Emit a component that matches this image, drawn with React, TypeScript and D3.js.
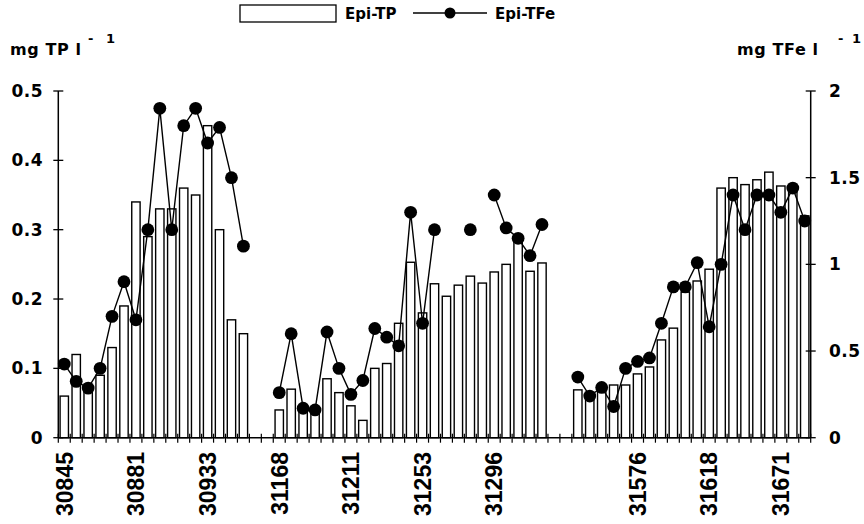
import React from "react";
import * as d3 from "d3";

// Epilimnion total phosphorus (bars, left axis) and total iron (dots, right axis)
const epiTP: (number | null)[] = [
  0.06, 0.12, 0.07, 0.09, 0.13, 0.19, 0.34, 0.29, 0.33, 0.33, 0.36, 0.35, 0.45, 0.3, 0.17, 0.15,
  null, null,
  0.04, 0.07, 0.04, 0.04, 0.085, 0.065, 0.046, 0.025, 0.1, 0.107, 0.165, 0.253, 0.18, 0.222,
  0.204, 0.22, 0.233, 0.223, 0.239, 0.25, 0.284, 0.24, 0.252,
  null, null,
  0.069, 0.065, 0.075, 0.076, 0.076, 0.092, 0.102, 0.141, 0.158, 0.21, 0.226, 0.243, 0.36,
  0.375, 0.365, 0.372, 0.383, 0.363, 0.36, 0.32,
];

const epiTFe: (number | null)[] = [
  0.425, 0.325, 0.286, 0.4, 0.7, 0.9, 0.68, 1.2, 1.9, 1.2, 1.8, 1.9, 1.7, 1.79, 1.5, 1.105,
  null, null,
  0.26, 0.6, 0.17, 0.16, 0.61, 0.4, 0.25, 0.33, 0.63, 0.58, 0.53, 1.3, 0.66, 1.2,
  null, null, 1.2, null, 1.4, 1.21, 1.15, 1.05, 1.23,
  null, null,
  0.35, 0.24, 0.29, 0.18, 0.4, 0.44, 0.46, 0.66, 0.87, 0.87, 1.01, 0.64, 1.0, 1.4, 1.2,
  1.4, 1.4, 1.3, 1.44, 1.25,
];

// labels shown on every 6th sample
const dateLabels = [
  "30845", "30881", "30933", "31168", "31211", "31253", "31296", "", "31576", "31618", "31671",
];
const labelEvery = 6;

const leftTicks = [0, 0.1, 0.2, 0.3, 0.4, 0.5];
const rightTicks = [0, 0.5, 1, 1.5, 2];

const W = 864;
const H = 524;
const plot = { left: 58.3, right: 810.7, top: 91, bottom: 437.7 };

const boldFont = "'DejaVu Sans', sans-serif";

export default function App() {
  const idx = d3.range(epiTP.length);
  const x = d3
    .scaleBand<number>()
    .domain(idx)
    .range([plot.left, plot.right])
    .paddingInner(0)
    .paddingOuter(0);
  const yL = d3.scaleLinear().domain([0, 0.5]).range([plot.bottom, plot.top]);
  const yR = d3.scaleLinear().domain([0, 2]).range([plot.bottom, plot.top]);
  const barW = x.bandwidth() * 0.7;
  const cx = (i: number) => (x(i) as number) + x.bandwidth() / 2;

  const line = d3
    .line<number | null>()
    .defined((d) => d != null)
    .x((_, i) => cx(i))
    .y((d) => yR(d as number));

  const boundaries = d3.range(epiTP.length + 1).map((k) => plot.left + k * x.step());

  return (
    <svg
      width={W}
      height={H}
      style={{ position: "absolute", left: 0, top: 0, background: "#fff" }}
    >
      <rect x={0} y={0} width={W} height={H} fill="#fff" />

      {/* legend */}
      <rect x={240} y={5} width={96} height={17} fill="#fff" stroke="#000" strokeWidth={1.3} />
      <text x={345} y={19} fontFamily={boldFont} fontWeight="bold" fontSize={15}>
        Epi-TP
      </text>
      <line x1={413} x2={487} y1={13} y2={13} stroke="#000" strokeWidth={1.3} />
      <circle cx={450} cy={13} r={5.5} fill="#000" />
      <text x={495} y={19} fontFamily={boldFont} fontWeight="bold" fontSize={15}>
        Epi-TFe
      </text>

      {/* axis titles */}
      <text x={10} y={55} fontFamily={boldFont} fontWeight="bold" fontSize={16} letterSpacing={0.6}>
        mg TP l
      </text>
      <text y={43} fontFamily={boldFont} fontWeight="bold" fontSize={13}>
        <tspan x={88}>-</tspan>
        <tspan x={106}>1</tspan>
      </text>
      <text x={737} y={55} fontFamily={boldFont} fontWeight="bold" fontSize={16} letterSpacing={0.6}>
        mg TFe l
      </text>
      <text y={43} fontFamily={boldFont} fontWeight="bold" fontSize={13}>
        <tspan x={838}>-</tspan>
        <tspan x={852}>1</tspan>
      </text>

      {/* bars */}
      {epiTP.map((v, i) =>
        v == null ? null : (
          <rect
            key={"b" + i}
            x={cx(i) - barW / 2}
            y={yL(v)}
            width={barW}
            height={plot.bottom - yL(v)}
            fill="#fff"
            stroke="#000"
            strokeWidth={1.4}
          />
        )
      )}

      {/* TFe line + dots */}
      <path d={line(epiTFe) || ""} fill="none" stroke="#000" strokeWidth={1.4} />
      {epiTFe.map((v, i) =>
        v == null ? null : <circle key={"d" + i} cx={cx(i)} cy={yR(v)} r={6.4} fill="#000" />
      )}

      {/* left axis */}
      <line x1={plot.left} x2={plot.left} y1={plot.top} y2={plot.bottom} stroke="#000" strokeWidth={1.5} />
      {leftTicks.map((t) => (
        <g key={"l" + t}>
          <line x1={plot.left - 5} x2={plot.left + 5} y1={yL(t)} y2={yL(t)} stroke="#000" strokeWidth={1.3} />
          <text
            x={43}
            y={yL(t)}
            dy="0.36em"
            textAnchor="end"
            fontFamily={boldFont}
            fontWeight="bold"
            fontSize={17}
            letterSpacing={0.5}
          >
            {t === 0 ? "0" : d3.format(".1f")(t)}
          </text>
        </g>
      ))}

      {/* right axis */}
      <line x1={plot.right} x2={plot.right} y1={plot.top} y2={plot.bottom} stroke="#000" strokeWidth={1.5} />
      {rightTicks.map((t) => (
        <g key={"r" + t}>
          <line x1={plot.right - 5} x2={plot.right + 5} y1={yR(t)} y2={yR(t)} stroke="#000" strokeWidth={1.3} />
          <text
            x={829}
            y={yR(t)}
            dy="0.36em"
            fontFamily={boldFont}
            fontWeight="bold"
            fontSize={17}
            letterSpacing={0.5}
          >
            {String(t)}
          </text>
        </g>
      ))}

      {/* x axis */}
      <line x1={plot.left} x2={plot.right} y1={plot.bottom} y2={plot.bottom} stroke="#000" strokeWidth={1.6} />
      {boundaries.map((bx, k) => (
        <line key={"t" + k} x1={bx} x2={bx} y1={plot.bottom - 4} y2={plot.bottom + 5} stroke="#000" strokeWidth={1.2} />
      ))}
      {dateLabels.map((lab, j) =>
        lab ? (
          <text
            key={"x" + j}
            transform={`translate(${cx(j * labelEvery)},452) rotate(-90)`}
            dy="0.36em"
            textAnchor="end"
            fontFamily="'Liberation Sans', Arial, sans-serif"
            fontWeight="bold"
            fontSize={23}
          >
            {lab}
          </text>
        ) : null
      )}
    </svg>
  );
}
